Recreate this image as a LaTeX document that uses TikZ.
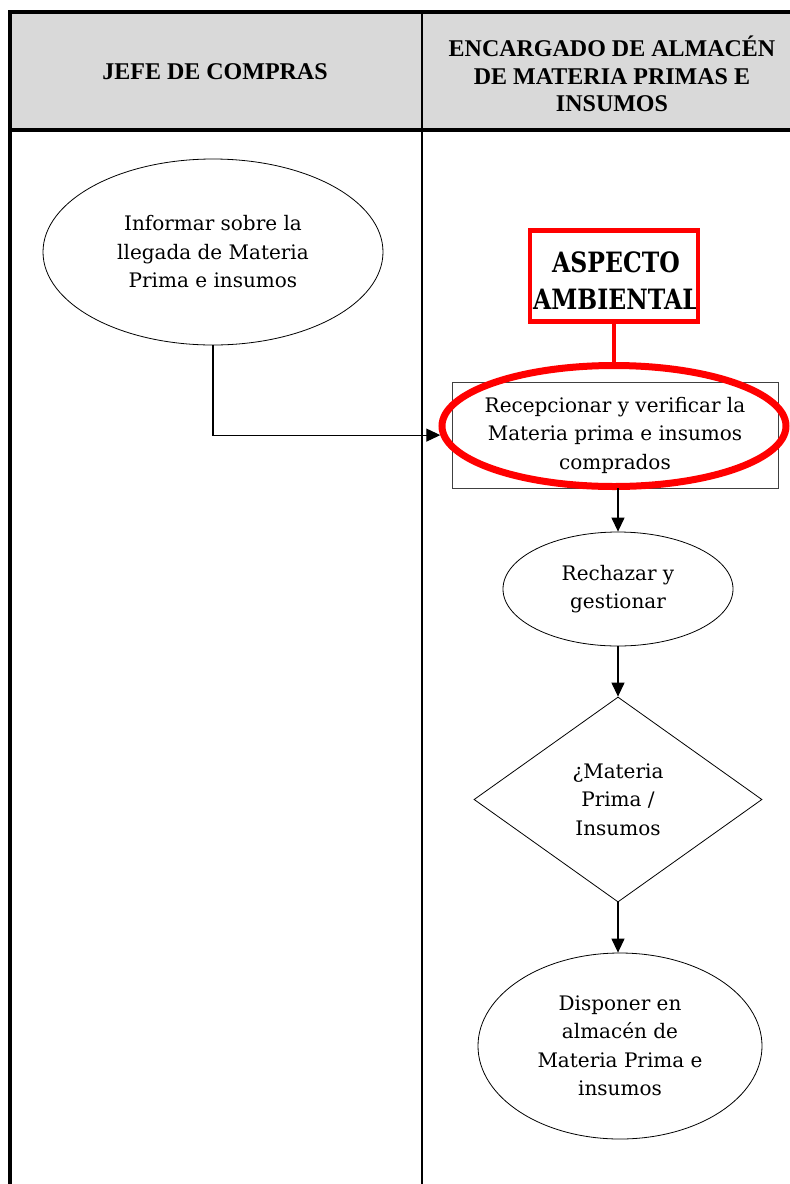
\documentclass[tikz,border=0pt]{standalone}
\usepackage{fontspec}
\setmainfont{DejaVu Serif}
\newfontfamily\hdrfont{Liberation Serif}
\newfontfamily\tagfont[FakeStretch=0.84]{DejaVu Serif}
\usetikzlibrary{shapes.geometric,arrows.meta}
\definecolor{hdrgray}{HTML}{D9D9D9}
\definecolor{markred}{HTML}{FF0000}
\begin{document}
\begin{tikzpicture}[x=1pt,y=-1pt,
  hdr/.style={align=center,font=\hdrfont\bfseries\fontsize{24}{27.5}\selectfont},
  body/.style={align=center,inner sep=0pt,font=\fontsize{20}{28.5}\selectfont},
  oval/.style={body,draw,ellipse,line width=0.8pt},
  rectbox/.style={body,draw=black!75,line width=0.8pt},
  diabox/.style={body,draw,diamond,line width=0.8pt},
  redmark/.style={draw=markred,ellipse,line width=7pt,inner sep=0pt},
  redbox/.style={fill=white,inner sep=0pt},
  redframe/.style={draw=markred,line width=4.5pt},
  tagtext/.style={align=center,inner sep=0pt,font=\tagfont\bfseries\fontsize{28}{37}\selectfont},
  flow/.style={line width=1.2pt,-{Triangle[length=14pt,width=13pt]}}]
\useasboundingbox (0,0) rectangle (790,1184);
% swimlane table
\fill[hdrgray] (10,12) rectangle (790,130);
\draw[line width=3.5pt] (10,1184) -- (10,12) -- (790,12);
\draw[line width=3.5pt] (10,130) -- (790,130);
\draw[line width=2pt] (422,12) -- (422,1184);
\node[hdr] (h1) at (215,72) {JEFE DE COMPRAS};
\node[hdr] (h2) at (612,74) {ENCARGADO DE ALMACÉN\\DE MATERIA PRIMAS E\\INSUMOS};
% process steps
\node[oval,minimum width=340,minimum height=186] (inf) at (213,252)
  {Informar sobre la\\llegada de Materia\\Prima e insumos};
\node[rectbox,minimum width=326,minimum height=106] (rec) at (615,435)
  {Recepcionar y verificar la\\Materia prima e insumos\\comprados};
\node[redmark,minimum width=344,minimum height=121] (mark) at (614,426) {};
% environmental-aspect tag, text clipped to its frame
\node[redbox,minimum width=168,minimum height=91] (asp) at (614,276) {};
\begin{scope}
  \clip (asp.south west) rectangle (asp.north east);
  \node[tagtext] (asptxt) at (616,281) {ASPECTO\\AMBIENTAL};
\end{scope}
\draw[redframe] (asp.south west) rectangle (asp.north east);
\draw[markred,line width=4pt] (asp.south) -- (mark.north);
\node[oval,minimum width=230,minimum height=114] (rej) at (618,589)
  {Rechazar y\\gestionar};
\node[diabox,minimum width=288,minimum height=205] (q) at (618,799.5)
  {¿Materia\\Prima /\\Insumos};
\node[oval,minimum width=284,minimum height=186] (disp) at (620,1046)
  {Disponer en\\almacén de\\Materia Prima e\\insumos};
% connectors
\draw[flow] (inf.south) |- (mark.183);
\draw[flow] (rec.south -| rej.north) -- (rej.north);
\draw[flow] (rej.south) -- (q.north);
\draw[flow] (q.south) -- (q.south |- disp.north);
\end{tikzpicture}
\end{document}
